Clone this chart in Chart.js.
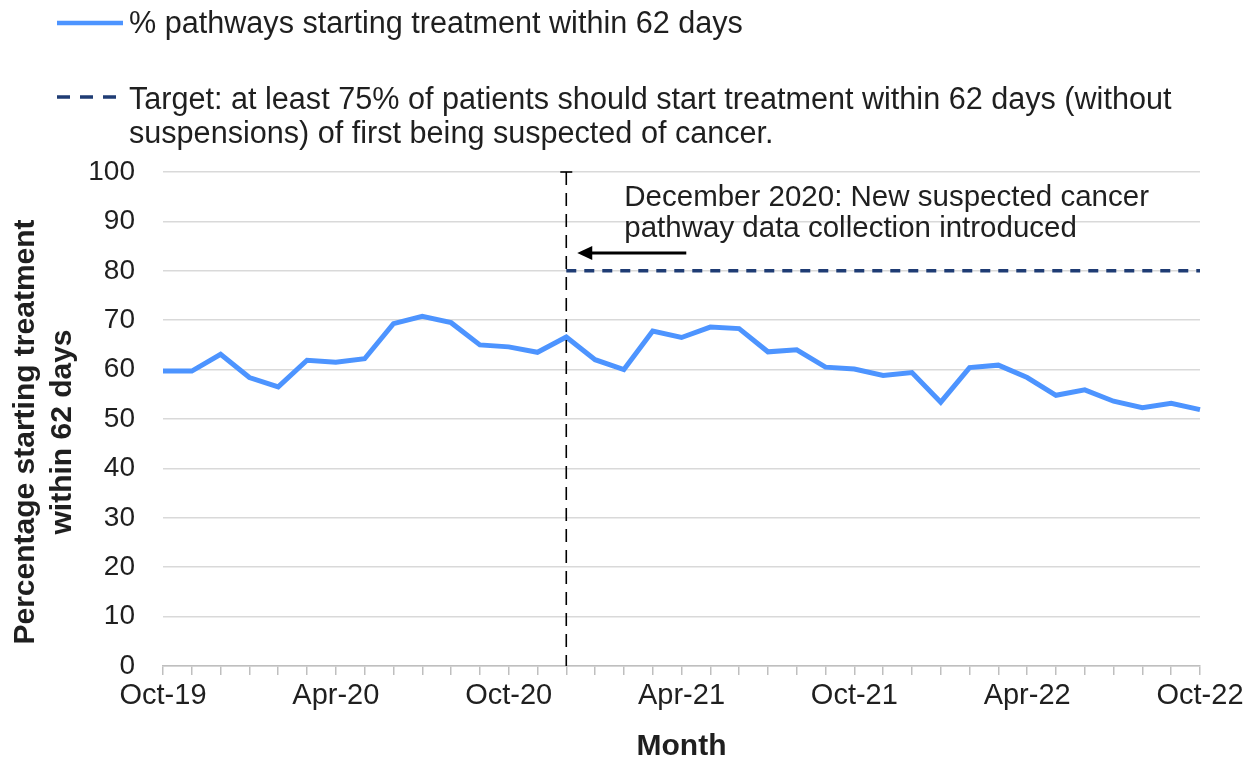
<!DOCTYPE html>
<html><head><meta charset="utf-8">
<script src="https://cdn.jsdelivr.net/npm/chart.js@4.4.1/dist/chart.umd.min.js"></script>
<style>html,body{margin:0;padding:0;background:#fff;} canvas{display:block;}</style>
</head><body>
<canvas id="c" width="1253" height="762" style="width:1253px;height:762px"></canvas>
<script>
const months = ['Oct-19','Nov-19','Dec-19','Jan-20','Feb-20','Mar-20','Apr-20','May-20','Jun-20','Jul-20','Aug-20','Sep-20','Oct-20','Nov-20','Dec-20','Jan-21','Feb-21','Mar-21','Apr-21','May-21','Jun-21','Jul-21','Aug-21','Sep-21','Oct-21','Nov-21','Dec-21','Jan-22','Feb-22','Mar-22','Apr-22','May-22','Jun-22','Jul-22','Aug-22','Sep-22','Oct-22'];
const pctWithin62 = [59.7,59.7,63.1,58.4,56.5,61.9,61.5,62.2,69.3,70.8,69.5,65.0,64.6,63.5,66.6,62.0,60.0,67.8,66.5,68.6,68.3,63.6,64.0,60.5,60.1,58.8,59.4,53.4,60.4,60.9,58.4,54.8,55.9,53.6,52.3,53.2,51.9];
const targetSeries = [null,null,null,null,null,null,null,null,null,null,null,null,null,null,80,80,80,80,80,80,80,80,80,80,80,80,80,80,80,80,80,80,80,80,80,80,80];
const shownTickLabels = ['Oct-19','Apr-20','Oct-20','Apr-21','Oct-21','Apr-22','Oct-22'];
const changeMonth = 'Dec-20';
const seriesLabel = '% pathways starting treatment within 62 days';
const targetLabelLines = ['Target: at least 75% of patients should start treatment within 62 days (without','suspensions) of first being suspected of cancer.'];
const annotationLines = ['December 2020: New suspected cancer','pathway data collection introduced'];
const yTitleLines = ['Percentage starting treatment','within 62 days'];
const xTitle = 'Month';

const FONT = "'Liberation Sans', Arial, sans-serif";
const TEXT = '#1f1f1f';
const BLUE = '#4d94ff';
const NAVY = '#1f3c74';

const overlay = {
  id: 'overlay',
  afterDatasetsDraw(chart) {
    const {ctx, chartArea, scales: {x, y}} = chart;
    const xd = x.getPixelForValue(months.indexOf(changeMonth));
    ctx.save();
    // vertical dashed marker
    ctx.strokeStyle = '#000';
    ctx.lineWidth = 1.6;
    ctx.setLineDash([13, 8]);
    ctx.beginPath();
    ctx.moveTo(xd, chartArea.top);
    ctx.lineTo(xd, chartArea.bottom);
    ctx.stroke();
    ctx.setLineDash([]);
    ctx.beginPath();
    ctx.moveTo(xd - 6, chartArea.top);
    ctx.lineTo(xd + 6, chartArea.top);
    ctx.stroke();
    // arrow
    const ay = y.getPixelForValue(83.6);
    ctx.lineWidth = 3;
    ctx.beginPath();
    ctx.moveTo(xd + 120, ay);
    ctx.lineTo(xd + 22, ay);
    ctx.stroke();
    ctx.fillStyle = '#000';
    ctx.beginPath();
    ctx.moveTo(xd + 11, ay);
    ctx.lineTo(xd + 26, ay - 7);
    ctx.lineTo(xd + 26, ay + 7);
    ctx.closePath();
    ctx.fill();
    // annotation text
    ctx.fillStyle = TEXT;
    ctx.font = '29.5px ' + FONT;
    ctx.textAlign = 'left';
    ctx.textBaseline = 'alphabetic';
    ctx.fillText(annotationLines[0], xd + 58, y.getPixelForValue(93.2));
    ctx.fillText(annotationLines[1], xd + 58, y.getPixelForValue(86.8));
    // legend
    ctx.lineWidth = 4.5;
    ctx.strokeStyle = BLUE;
    ctx.beginPath();
    ctx.moveTo(57, 23);
    ctx.lineTo(123, 23);
    ctx.stroke();
    ctx.strokeStyle = NAVY;
    ctx.lineWidth = 3.5;
    ctx.setLineDash([13, 10]);
    ctx.beginPath();
    ctx.moveTo(57, 97);
    ctx.lineTo(125, 97);
    ctx.stroke();
    ctx.setLineDash([]);
    ctx.font = '30.6px ' + FONT;
    ctx.fillText(seriesLabel, 129, 33);
    ctx.fillText(targetLabelLines[0], 129, 109);
    ctx.fillText(targetLabelLines[1], 129, 143);
    // y axis title
    const cy = (chartArea.top + chartArea.bottom) / 2 + 13;
    ctx.font = 'bold 30px ' + FONT;
    ctx.textAlign = 'center';
    ctx.textBaseline = 'middle';
    ctx.translate(26, cy);
    ctx.rotate(-Math.PI / 2);
    ctx.fillText(yTitleLines[0], 0, 0);
    ctx.fillText(yTitleLines[1], 0, 37);
    ctx.restore();
  }
};

new Chart(document.getElementById('c'), {
  type: 'line',
  data: {
    labels: months,
    datasets: [
      {label: seriesLabel, data: pctWithin62, borderColor: BLUE, borderWidth: 5, pointRadius: 0, tension: 0, fill: false},
      {label: 'Target', data: targetSeries, borderColor: NAVY, borderWidth: 3.5, borderDash: [10, 8], pointRadius: 0, tension: 0, fill: false, spanGaps: false}
    ]
  },
  options: {
    responsive: false,
    animation: false,
    devicePixelRatio: 1,
    layout: {padding: {top: 172, right: 53, bottom: 0, left: 0}},
    plugins: {legend: {display: false}, tooltip: {enabled: false}, title: {display: false}},
    scales: {
      x: {
        afterFit(s) { s.height = 96; },
        grid: {display: true, drawOnChartArea: false, drawTicks: true, tickLength: 9, color: '#bfbfbf', lineWidth: 1.5},
        border: {display: true, color: '#bfbfbf', width: 1.5},
        ticks: {
          autoSkip: false, maxRotation: 0, minRotation: 0, padding: 4,
          color: TEXT, font: {family: FONT, size: 29},
          callback(v, i) { const l = months[i]; return shownTickLabels.includes(l) ? l : ''; }
        },
        title: {display: true, text: xTitle, color: TEXT, font: {family: FONT, size: 30, weight: 'bold', lineHeight: 1.0}, padding: {top: 0, bottom: 0}}
      },
      y: {
        min: 0, max: 100,
        afterFit(s) { s.width = 163; },
        grid: {color: '#d9d9d9', lineWidth: 1.5, drawTicks: false},
        border: {display: false},
        ticks: {stepSize: 10, padding: 28, color: TEXT, font: {family: FONT, size: 28}}
      }
    }
  },
  plugins: [overlay]
});
</script>
</body></html>
